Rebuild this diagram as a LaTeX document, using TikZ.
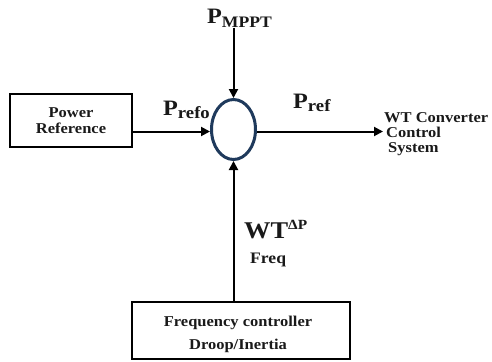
\documentclass[tikz,border=0pt]{standalone}
\usepackage{fontspec}
\setmainfont[FakeStretch=1.1]{Liberation Serif}
\usetikzlibrary{shapes.geometric,arrows.meta}
\definecolor{ellblue}{RGB}{31,58,92}
\definecolor{txt}{RGB}{25,25,25}
\tikzset{
  blockbox/.style={draw=black, line width=1.4pt, inner sep=0pt, align=center, text=txt, font=\bfseries\fontsize{15}{16.5}\selectfont},
  conn/.style={line width=2pt, -{Triangle[length=9pt,width=9pt]}},
  biglabel/.style={inner sep=0pt, anchor=base west, text=txt, font=\bfseries\fontsize{22}{24}\selectfont},
}
\begin{document}
\begin{tikzpicture}[x=1pt,y=-1pt]
\useasboundingbox (0,0) rectangle (492,361);
\fill[white] (0,0) rectangle (492,361);
\node[blockbox, minimum width=122pt, minimum height=53pt] (pr) at (71,120.5) {Power\\Reference};
\node[draw=ellblue, line width=3pt, ellipse, minimum width=44pt, minimum height=60pt, inner sep=0pt] (sum) at (233.5,129.5) {};
\node[blockbox, minimum width=218pt, minimum height=57pt] (fc) at (241,330.5) {};
\node[inner sep=0pt, align=center, text=txt, font=\bfseries\fontsize{15}{23}\selectfont] (fct) at (238,334.5) {Frequency controller\\Droop/Inertia};
\node[inner sep=1pt, anchor=west, align=left, text=txt, font=\bfseries\fontsize{15}{14.7}\selectfont] (wt) at (383,134) {WT Converter\\\hspace{2pt}Control\\\hspace{4pt}System};
\node[biglabel] (pm) at (207,24) {P\textsubscript{\fontsize{16}{16}\selectfont MPPT}};
\node[biglabel] (pro) at (163,115) {P\raisebox{-3pt}{\fontsize{17}{17}\selectfont refo}};
\node[biglabel] (prf) at (293,108) {P\raisebox{-3pt}{\fontsize{17}{17}\selectfont ref}};
\node[biglabel, font=\bfseries\fontsize{24}{26}\selectfont] (wtdp) at (244,238) {WT\raisebox{9pt}{\fontsize{14}{14}\selectfont ΔP}};
\node[inner sep=0pt, anchor=base west, text=txt, font=\bfseries\fontsize{16}{16}\selectfont] (fq) at (250,263) {Freq};
\coordinate (mt) at (233.5,28);
\draw[conn] (mt) -- (sum.north);
\draw[conn] (pr.east |- 0,131.5) -- (sum.west |- 0,131.5);
\draw[conn] (sum.east |- 0,131.5) -- (wt.west |- 0,131.5);
\draw[conn] (sum.south |- fc.north) -- (sum.south);
\end{tikzpicture}
\end{document}
